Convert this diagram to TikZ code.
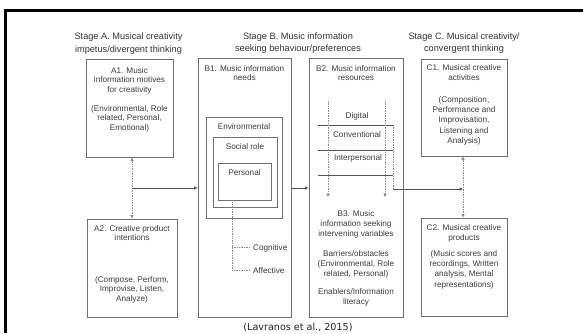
\documentclass[tikz,border=0pt]{standalone}
\usepackage{fontspec}
\setmainfont{Liberation Sans}
\newfontfamily\capfont{DejaVu Sans}
\usetikzlibrary{arrows.meta,calc}
\definecolor{boxgray}{HTML}{707070}
\definecolor{txtgray}{HTML}{3C3C3C}
\definecolor{ttlgray}{HTML}{333333}
\definecolor{lngray}{HTML}{555555}
\definecolor{dotgray}{HTML}{8A8A8A}
\definecolor{capgray}{HTML}{222222}
\begin{document}
\begin{tikzpicture}[x=1pt,y=-1pt,
  bx/.style={draw=boxgray, line width=0.8pt, inner sep=0pt},
  txt/.style={font=\fontsize{8.2}{9.8}\selectfont, align=center, inner sep=0pt, anchor=north, text=txtgray},
  txtw/.style={font=\fontsize{8.2}{10.3}\selectfont, align=center, inner sep=0pt, anchor=north, text=txtgray},
  ttl/.style={font=\fontsize{9.2}{12.8}\selectfont, align=center, inner sep=0pt, anchor=north, text=ttlgray},
  conn/.style={draw=lngray, line width=0.7pt},
  dots/.style={draw=dotgray, line width=0.7pt, densely dotted},
  tip/.style={-{Triangle[length=3.5pt,width=3pt]}},
  tips/.style={{Triangle[length=3.5pt,width=3pt]}-{Triangle[length=3.5pt,width=3pt]}},
]
\useasboundingbox (0,0) rectangle (583,333);
\fill[white] (0,0) rectangle (583,333);
% frame edges
\draw[line width=2.6pt] (4.2,10.5) -- (583,10.5);
\draw[line width=2.8pt] (5.5,9.2) -- (5.5,333);

% titles
\node[ttl] (tA) at (128.5,32.7) {Stage A. Musical creativity\\impetus/divergent thinking};
\node[ttl] (tB) at (298,32.2) {Stage B. Music information\\seeking behaviour/preferences};
\node[ttl] (tC) at (464,32.2) {Stage C. Musical creativity/\\convergent thinking};

% boxes
\node[bx, minimum width=87pt, minimum height=98pt] (A1) at (129.5,108) {};
\node[bx, minimum width=90pt, minimum height=98pt] (A2) at (132,268) {};
\node[bx, minimum width=93pt, minimum height=259pt] (B1) at (244.5,187.5) {};
\node[bx, minimum width=76pt, minimum height=101pt] (En) at (244,167.5) {};
\node[bx, minimum width=64pt, minimum height=70pt] (So) at (245,172) {};
\node[bx, minimum width=53pt, minimum height=37pt] (Pe) at (244.5,181.5) {};
\node[bx, minimum width=94pt, minimum height=259pt] (B2) at (356,187.5) {};
\node[bx, minimum width=86pt, minimum height=97pt] (C1) at (464,107.5) {};
\node[bx, minimum width=86pt, minimum height=98pt] (C2) at (464,267) {};

% texts
\node[txt] (a1a) at (129.5,67) {A1. Music\\information motives\\for creativity};
\node[txt] (a1b) at (129.5,105) {(Environmental, Role\\related, Personal,\\Emotional)};
\node[txt] (a2a) at (132,225) {A2. Creative product\\intentions};
\node[txt] (a2b) at (132,276) {(Compose, Perform,\\Improvise, Listen,\\Analyze)};
\node[txt] (b1a) at (244.5,65) {B1. Music information\\needs};
\node[txt] (ena) at (244,123) {Environmental};
\node[txt] (soa) at (245,143) {Social role};
\node[txt] (pea) at (244.5,169) {Personal};
\node[txt] (b2a) at (356,65) {B2. Music information\\resources};
\node[txt] (dg) at (357,112) {Digital};
\node[txt] (cv) at (357,131) {Conventional};
\node[txt] (ip) at (358,154) {Interpersonal};
\node[txtw] (b3a) at (356,210) {B3. Music\\information seeking\\intervening variables};
\node[txtw] (b3b) at (356,250) {Barriers/obstacles\\(Environmental, Role\\related, Personal)};
\node[txtw] (b3c) at (356,288) {Enablers/Information\\literacy};
\node[txtw] (c1a) at (464,64) {C1. Musical creative\\activities};
\node[txtw] (c1b) at (464,96) {(Composition,\\Performance and\\Improvisation,\\Listening and\\Analysis)};
\node[txtw] (c2a) at (464,224) {C2. Musical creative\\products};
\node[txtw] (c2b) at (464,250) {(Music scores and\\recordings, Written\\analysis, Mental\\representations)};
\node[font=\fontsize{8.2}{9.8}\selectfont, text=txtgray, inner sep=0pt, anchor=base west] (cg) at (253,250) {Cognitive};
\node[font=\fontsize{8.2}{9.8}\selectfont, text=txtgray, inner sep=0pt, anchor=base west] (af) at (253,273) {Affective};

% Stage A connectors
\coordinate (aX) at (132,0);
\coordinate (jA) at (132,188);
\draw[dots,tips] (aX |- A1.south) -- (aX |- A2.north);
\draw[conn,tip] (jA) -- (jA -| B1.west);
\draw[conn,tip] (B1.east |- jA) -- (B2.west |- jA);

% Personal -> cognitive / affective
\coordinate (pv) at (232,0);
\coordinate (cgE) at (250,247);
\coordinate (afE) at (250,270);
\draw[dots] (pv |- Pe.south) |- (afE);
\draw[dots] (pv |- cgE) -- (cgE);

% B2 resources table
\coordinate (tl1) at (318,125); \coordinate (tr1) at (393,125);
\coordinate (tl2) at (318,150); \coordinate (tr2) at (393,150);
\coordinate (tl3) at (318,175); \coordinate (tr3) at (393,175);
\draw[conn] (tl1) -- (tr1);
\draw[conn] (tl2) -- (tr2);
\draw[conn] (tl3) -- (tr3);
\coordinate (dA) at (328,101);
\coordinate (dB) at (385,101);
\draw[dots,tip] (dA) -- ++(0,96);
\draw[dots,tip] (dB) -- ++(0,96);
\coordinate (rB) at (393,189);
\draw[dots] (tr1) -- (rB);
\coordinate (cX) at (463,0);
\draw[conn,tip] (rB) -- (rB -| cX);
\draw[dots,tips] (cX |- C1.south) -- (cX |- C2.north);

% caption
\node[font=\capfont\fontsize{9.6}{11}\selectfont, text=capgray, inner sep=0pt] (cap) at (298,327) {(Lavranos et al., 2015)};
\end{tikzpicture}
\end{document}
